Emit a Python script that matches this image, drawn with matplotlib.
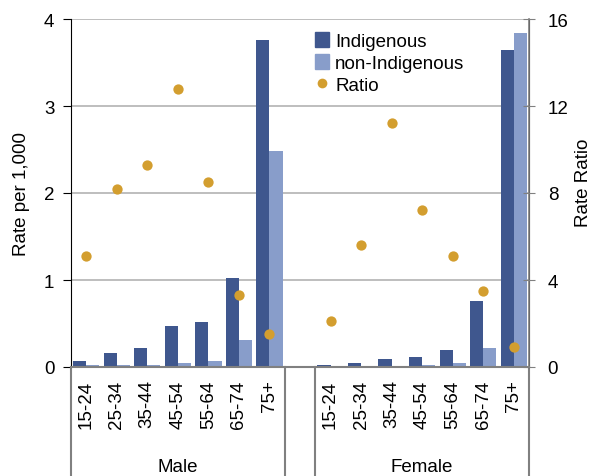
import numpy as np
import matplotlib
matplotlib.use("Agg")
import matplotlib.pyplot as plt
from matplotlib.patches import Patch
from matplotlib.lines import Line2D
import matplotlib.transforms as mtransforms

plt.rcParams['font.family'] = ['Liberation Sans', 'DejaVu Sans']

# ---- data ----
ages = ["15-24", "25-34", "35-44", "45-54", "55-64", "65-74", "75+"]
groups = ["Male", "Female"]

male_indig = [0.07, 0.16, 0.22, 0.47, 0.52, 1.02, 3.76]
male_non = [0.02, 0.02, 0.02, 0.05, 0.07, 0.31, 2.48]
male_ratio = [5.1, 8.2, 9.3, 12.8, 8.5, 3.3, 1.5]

female_indig = [0.02, 0.05, 0.09, 0.11, 0.20, 0.76, 3.64]
female_non = [0.005, 0.01, 0.01, 0.02, 0.05, 0.22, 3.84]
female_ratio = [2.1, 5.6, 11.2, 7.2, 5.1, 3.5, 0.9]

c_indig = "#3f578e"
c_non = "#889dca"
c_ratio = "#d39e2f"
fs = 13.5

# slot positions: 7 male, one empty slot, 7 female
x_male = np.arange(len(ages))
x_female = np.arange(len(ages)) + len(ages) + 1
x_all = np.concatenate([x_male, x_female])
indig = male_indig + female_indig
non = male_non + female_non
ratio = male_ratio + female_ratio

fig = plt.figure(figsize=(5.93, 4.77), dpi=100)
ax = fig.add_axes([71 / 593, 1 - 368 / 477, 458 / 593, 348 / 477])
ax2 = ax.twinx()

w = 0.43
ax.bar(x_all - w / 2, indig, width=w, color=c_indig, zorder=2)
ax.bar(x_all + w / 2, non, width=w, color=c_non, zorder=2)
ax.set_xlim(-0.5, 14.5)
ax.set_ylim(0, 4)
ax.set_yticks([0, 1, 2, 3, 4])
ax.yaxis.grid(True, color="#b3b3b3", linewidth=1.2, zorder=0)
ax.set_axisbelow(True)

ax2.scatter(x_all, ratio, s=55, color=c_ratio, zorder=3, linewidths=0)
ax2.set_ylim(0, 16)
ax2.set_yticks([0, 4, 8, 12, 16])

# spines
for a in (ax, ax2):
    a.spines["top"].set_visible(False)
ax.spines["left"].set_color("black")
ax.spines["bottom"].set_color("#808080")
ax.spines["bottom"].set_linewidth(1.5)
ax2.spines["right"].set_color("#808080")
ax2.spines["right"].set_linewidth(1.2)
ax2.spines["left"].set_visible(False)
ax2.spines["bottom"].set_visible(False)

ax.tick_params(axis="y", direction="out", length=6, labelsize=fs, colors="black", pad=6)
ax2.tick_params(axis="y", direction="inout", length=9, labelsize=fs, pad=9, color="#808080")

ax.set_xticks(x_all)
ax.set_xticklabels(ages * 2, rotation=90, fontsize=fs, va="top")
ax.tick_params(axis="x", length=0, pad=9)

ax.set_ylabel("Rate per 1,000", fontsize=fs, labelpad=10)
fig.text(584 / 593, 1 - 183 / 477, "Rate Ratio", fontsize=fs, rotation=90,
         ha="center", va="center")

# group separators and labels under the axis
trans = mtransforms.blended_transform_factory(ax.transData, ax.transAxes)
for xv in [-0.5, 6.5, 7.5, 14.5]:
    ax.plot([xv, xv], [0, -0.32], transform=trans, color="#808080",
            linewidth=1.5, clip_on=False)
ax.text(np.mean(x_male), -0.285, groups[0], transform=trans, ha="center",
        va="center", fontsize=fs)
ax.text(np.mean(x_female), -0.285, groups[1], transform=trans, ha="center",
        va="center", fontsize=fs)

handles = [
    Patch(color=c_indig, label="Indigenous"),
    Patch(color=c_non, label="non-Indigenous"),
    Line2D([], [], marker="o", linestyle="", color=c_ratio, markersize=7,
           markeredgewidth=0, label="Ratio"),
]
ax.legend(handles=handles, loc="upper left", bbox_to_anchor=(0.505, 1.0),
          frameon=False, fontsize=fs, handlelength=0.75, handleheight=0.85,
          handletextpad=0.3, labelspacing=0.2, borderaxespad=0.3)

fig.savefig("out.png", dpi=100)
